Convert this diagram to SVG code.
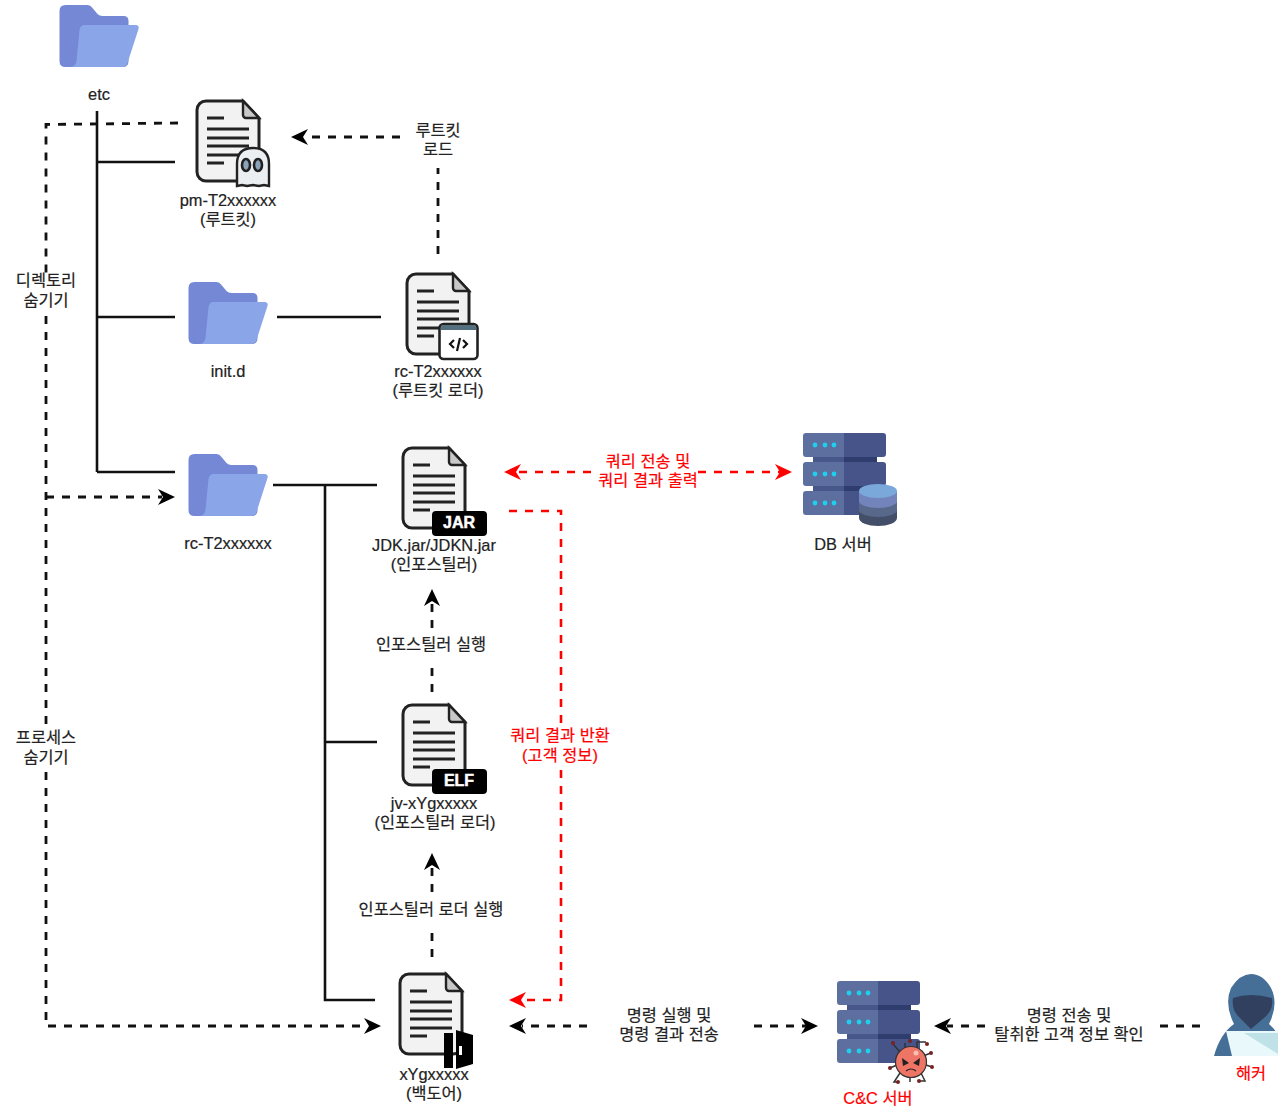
<svg xmlns="http://www.w3.org/2000/svg" width="1278" height="1106" viewBox="0 0 1278 1106">
<style>
text{font-family:"Liberation Sans","Noto Sans CJK KR",sans-serif;font-size:16.4px;fill:#222;text-anchor:middle;stroke:#222;stroke-width:.2}
text.r{fill:#f00;stroke:#f00}
text.b{fill:#fff;stroke:#fff;stroke-width:.5;font-weight:bold;font-size:16px}
.l{fill:none;stroke:#111;stroke-width:2.6}
.d{fill:none;stroke:#111;stroke-width:2.8;stroke-dasharray:8 8}
.dr{fill:none;stroke:#f00;stroke-width:2.6;stroke-dasharray:8 8}
.ln{stroke:#222;stroke-width:3;fill:none}
.ah{fill:#000}
.ahr{fill:#f00}
</style>
<defs>
<symbol id="doc" width="66" height="84" viewBox="0 0 66 84" overflow="visible">
<path d="M10 1H47L63 18V72a9 9 0 0 1-9 9H10a9 9 0 0 1-9-9V10a9 9 0 0 1 9-9Z" fill="#f2f2f2" stroke="#222" stroke-width="3"/>
<path d="M47 1L63 18H50a3 3 0 0 1-3-3Z" fill="#c8c8c8" stroke="#222" stroke-width="2.4"/>
<path class="ln" d="M11 18H28M11 29H53M11 38H53M11 46H53M11 55H53M11 63H28"/>
</symbol>
<symbol id="folder" width="80" height="64" viewBox="0 0 80 64" overflow="visible">
<path d="M6 0H28q3 0 5 3l5 6q2 2 5 2H64q5 0 5 5V56q0 6-6 6H6q-6 0-6-6V6q0-6 6-6Z" fill="#7488d6"/>
<path d="M25 20H76q4 0 3 4L68 58q-1 4-6 4H10q6 0 7-6L20 25q1-5 5-5Z" fill="#8ba5e9"/>
</symbol>
<symbol id="server" width="84" height="84" viewBox="0 0 84 84" overflow="visible">
<rect x="10" y="18" width="31" height="60" fill="#47578a"/>
<rect x="41" y="18" width="33" height="60" fill="#2f3c6e"/>
<path d="M3 0H41V24H3q-3 0-3-3V3q0-3 3-3ZM3 29H41V53H3q-3 0-3-3V32q0-3 3-3ZM3 58H41V82H3q-3 0-3-3V61q0-3 3-3Z" fill="#5c6f9e"/>
<path d="M41 0H80q3 0 3 3V21q0 3-3 3H41ZM41 29H80q3 0 3 3V50q0 3-3 3H41ZM41 58H80q3 0 3 3V79q0 3-3 3H41Z" fill="#465489"/>
<g fill="#1fd0ee"><circle cx="12" cy="12" r="2.4"/><circle cx="22" cy="12" r="2.4"/><circle cx="31" cy="12" r="2.4"/><circle cx="12" cy="41" r="2.4"/><circle cx="22" cy="41" r="2.4"/><circle cx="31" cy="41" r="2.4"/><circle cx="12" cy="70" r="2.4"/><circle cx="22" cy="70" r="2.4"/><circle cx="31" cy="70" r="2.4"/></g>
</symbol>
<path id="tip" d="M0 0L17-8L12 0L17 8Z"/>
</defs>

<g id="connectors">
<path class="l" d="M97 111V472M97 162H175M97 317H175M97 472H175M277 317H381M273 485H377M325 485V1000H375M325 742H377"/>
<path class="d" d="M178 123L46 124.500V276M46 316V732M46 772V1026H368"/>
<path class="d" d="M46 497H162"/>
<path class="d" d="M400 137H304"/>
<path class="d" d="M438 254V168"/>
<path class="d" d="M432 692V664M432 628V602"/>
<path class="d" d="M432 957V928M432 892V867"/>
<path class="d" d="M587 1026H522M754 1026H806"/>
<path class="d" d="M1200 1026H1155M985 1026H947"/>
<path class="dr" d="M519 472H598M698 472H780"/>
<path class="dr" d="M509 511H561V726M561 770V1000H522"/>
<g class="ah">
<use href="#tip" transform="translate(291,137)"/>
<use href="#tip" transform="translate(432,589) rotate(90)"/>
<use href="#tip" transform="translate(432,853) rotate(90)"/>
<use href="#tip" transform="translate(175,497) rotate(180)"/>
<use href="#tip" transform="translate(381,1026) rotate(180)"/>
<use href="#tip" transform="translate(509,1026)"/>
<use href="#tip" transform="translate(818,1026) rotate(180)"/>
<use href="#tip" transform="translate(934,1026)"/>
</g>
<g class="ahr">
<use href="#tip" transform="translate(504,472)"/>
<use href="#tip" transform="translate(792,472) rotate(180)"/>
<use href="#tip" transform="translate(509,1000)"/>
</g>
</g>

<g id="node-etc"><use href="#folder" x="59.500" y="5"/><text x="99" y="100">etc</text></g>

<g id="node-pm"><use href="#doc" x="196" y="100"/>
<path d="M237 186V164q0-16 16-16t16 16V186l-5-1-5 1-6-1-6 1-5-1Z" fill="#ebeff2" stroke="#222" stroke-width="2.4"/>
<ellipse cx="246" cy="165" rx="4" ry="6" fill="#8aa3b8" stroke="#222" stroke-width="2.6"/><ellipse cx="258" cy="165" rx="4" ry="6" fill="#8aa3b8" stroke="#222" stroke-width="2.6"/>
<text x="228" y="206">pm-T2xxxxxx</text><text x="228" y="225">(루트킷)</text></g>

<g id="node-initd"><use href="#folder" x="188.500" y="282"/><text x="228" y="377">init.d</text></g>

<g id="node-rc-loader"><use href="#doc" x="406" y="273"/>
<rect x="439.500" y="324" width="38" height="35" rx="4" fill="#fff" stroke="#222" stroke-width="2.6"/>
<path d="M441 330V327q0-2 2-2H474q2 0 2 2V330Z" fill="#54707f"/>
<path d="M454 340l-4 4 4 4M463 340l4 4-4 4M460 338l-3 13" fill="none" stroke="#111" stroke-width="2.2"/>
<text x="438" y="377">rc-T2xxxxxx</text><text x="438" y="396">(루트킷 로더)</text></g>

<g id="node-rc-dir"><use href="#folder" x="188.500" y="454"/><text x="228" y="549">rc-T2xxxxxx</text></g>

<g id="node-jar"><use href="#doc" x="402" y="447"/>
<rect x="432" y="511" width="55" height="25" rx="4" fill="#000"/>
<text class="b" x="459" y="528">JAR</text>
<text x="434" y="551">JDK.jar/JDKN.jar</text><text x="434" y="570">(인포스틸러)</text></g>

<g id="node-elf"><use href="#doc" x="402" y="704"/>
<rect x="432" y="769" width="55" height="25" rx="4" fill="#000"/>
<text class="b" x="459" y="786">ELF</text>
<text x="434" y="809">jv-xYgxxxxx</text><text x="435" y="828">(인포스틸러 로더)</text></g>

<g id="node-backdoor"><use href="#doc" x="399" y="973"/>
<rect x="444" y="1033" width="9" height="35" fill="#000"/>
<path d="M456 1030L473 1035V1064L456 1069Z" fill="#000"/><rect x="459" y="1046" width="3" height="9" fill="#fff"/>
<text x="434" y="1080">xYgxxxxx</text><text x="434" y="1099">(백도어)</text></g>

<g id="node-db"><use href="#server" x="803" y="433"/>
<path d="M859 491V518a19 8 0 0 0 38 0V491Z" fill="#434f68"/>
<path d="M859 491V510a19 7 0 0 0 38 0V491Z" fill="#58688a"/>
<path d="M859 491V501a19 7 0 0 0 38 0V491Z" fill="#7384bd"/>
<ellipse cx="878" cy="491" rx="19" ry="7" fill="#7ba8da"/>
<text x="843" y="550">DB 서버</text></g>

<g id="node-cc"><use href="#server" x="837" y="981"/>
<g fill="none" stroke="#333" stroke-width="1.500">
<path d="M900 1052L893 1044V1043M905 1048V1043M917 1048V1042L926 1042M923 1056L931 1053M926 1065L932 1067M921 1073L925 1081H919M910 1078V1082M900 1073L894 1082H898M897 1065L890 1068"/></g>
<g fill="#722"><circle cx="893" cy="1043" r="2"/><circle cx="910" cy="1041" r="2"/><circle cx="927" cy="1044" r="2"/><circle cx="931" cy="1053" r="2"/><circle cx="932" cy="1067" r="2"/><circle cx="919" cy="1081" r="2"/><circle cx="898" cy="1082" r="2"/><circle cx="890" cy="1068" r="2"/></g>
<circle cx="911" cy="1062" r="15.500" fill="#ee7465" stroke="#333" stroke-width="1.200"/>
<circle cx="916" cy="1053" r="2.500" fill="#f8c0b4"/>
<path d="M902 1058L909 1063L903 1066ZM920 1058L913 1063L919 1066Z" fill="#222"/>
<path d="M906 1071q5-4 10 0" fill="none" stroke="#222" stroke-width="1.200"/>
<text class="r" x="878" y="1104">C&amp;C 서버</text></g>

<g id="node-hacker">
<path d="M1214 1056Q1220 1034 1234 1024Q1224 1004 1231 988Q1240 974 1251 974Q1263 974 1271 988Q1279 1004 1269 1024Q1276 1030 1278 1036V1056Z" fill="#466f97"/>
<path d="M1233 998Q1250 992 1272 998Q1274 1010 1264 1018L1251 1029L1240 1018Q1231 1010 1233 998Z" fill="#324060"/>
<path d="M1226 1031H1278V1056H1232Z" fill="#e9f8fb"/>
<path d="M1244 1033H1278V1054Z" fill="#bfe2e8"/>
<text class="r" x="1251" y="1079">해커</text></g>

<g id="labels">
<text x="438" y="136">루트킷</text><text x="438" y="155">로드</text>
<text x="46" y="286">디렉토리</text><text x="46" y="306">숨기기</text>
<text x="46" y="743">프로세스</text><text x="46" y="763">숨기기</text>
<text x="431" y="650">인포스틸러 실행</text>
<text x="431" y="915">인포스틸러 로더 실행</text>
<text x="669" y="1021">명령 실행 및</text><text x="669" y="1040">명령 결과 전송</text>
<text x="1069" y="1021">명령 전송 및</text><text x="1069" y="1040">탈취한 고객 정보 확인</text>
<text class="r" x="648" y="467">쿼리 전송 및</text><text class="r" x="648" y="486">쿼리 결과 출력</text>
<text class="r" x="560" y="741">쿼리 결과 반환</text><text class="r" x="560" y="761">(고객 정보)</text>
</g>
</svg>
